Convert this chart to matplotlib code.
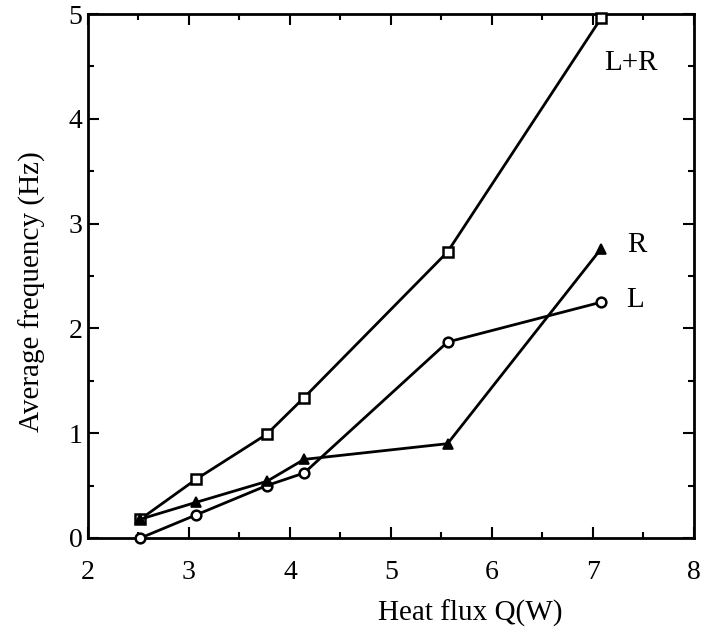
import matplotlib
matplotlib.use("Agg")
import matplotlib.pyplot as plt
from matplotlib.ticker import MultipleLocator

plt.rcParams['font.family'] = ['Liberation Serif', 'DejaVu Serif']

# Heat flux (W) and average frequency (Hz) for each series
heat_flux = [2.52, 3.07, 3.77, 4.14, 5.56, 7.08]
freq_LR = [0.18, 0.56, 0.99, 1.34, 2.73, 4.96]
freq_R = [0.18, 0.34, 0.54, 0.75, 0.90, 2.76]
freq_L = [0.00, 0.22, 0.50, 0.62, 1.87, 2.25]

series_labels = ["L+R", "R", "L"]
label_pos = [(7.38, 4.53), (7.43, 2.80), (7.42, 2.27)]

fig = plt.figure(figsize=(7.06, 6.29), dpi=100)
ax = fig.add_axes([0.1246, 0.1447, 0.8584, 0.833])

lw = 2.0
ax.plot(heat_flux, freq_LR, color='black', lw=lw, marker='s', ms=7,
        mfc='white', mec='black', mew=1.8, clip_on=False, zorder=3)
ax.plot(heat_flux, freq_L, color='black', lw=lw, marker='o', ms=7,
        mfc='white', mec='black', mew=1.8, clip_on=False, zorder=3)
ax.plot(heat_flux, freq_R, color='black', lw=lw, marker='^', ms=7,
        mfc='black', mec='black', mew=1.2, clip_on=False, zorder=4)

for txt, (x, y) in zip(series_labels, label_pos):
    ax.text(x, y, txt, fontsize=21, ha='center', va='center')

ax.set_xlim(2, 8)
ax.set_ylim(0, 5)
ax.xaxis.set_major_locator(MultipleLocator(1))
ax.xaxis.set_minor_locator(MultipleLocator(0.5))
ax.yaxis.set_major_locator(MultipleLocator(1))
ax.yaxis.set_minor_locator(MultipleLocator(0.5))
ax.tick_params(which='both', direction='in', top=True, right=True,
               width=1.5, labelsize=20)
ax.tick_params(which='major', length=8)
ax.tick_params(which='minor', length=4)
ax.tick_params(axis='x', which='major', pad=16)
ax.tick_params(axis='y', which='major', pad=4)
for s in ax.spines.values():
    s.set_linewidth(2.0)

ax.set_xlabel("Heat flux Q(W)", fontsize=21)
ax.set_ylabel("Average frequency (Hz)", fontsize=21)
ax.xaxis.set_label_coords(0.63, -0.117)
ax.yaxis.set_label_coords(-0.07, 0.47)

fig.savefig("out.png", dpi=100)
